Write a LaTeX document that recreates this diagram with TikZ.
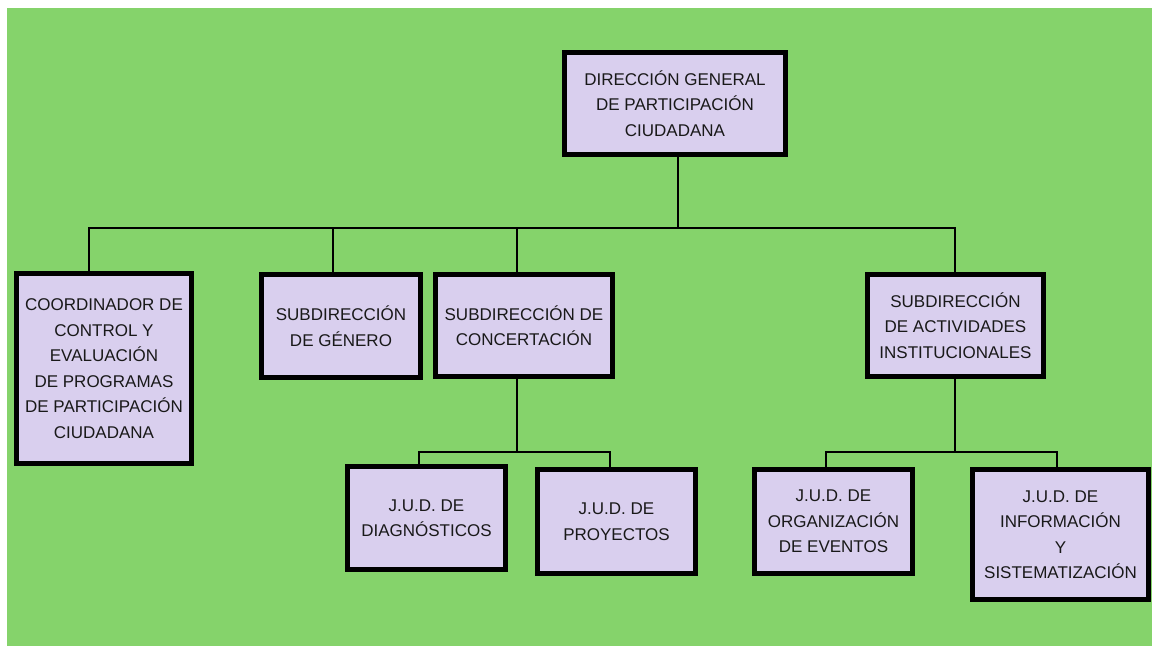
\documentclass[tikz,border=0pt]{standalone}
\usepackage{fontspec}
\setmainfont{Liberation Sans}
\definecolor{bggreen}{HTML}{85D36B}
\definecolor{boxlilac}{HTML}{D9CFEE}
\tikzset{
  unit/.style={draw=black, fill=boxlilac, line width=5pt, inner sep=0pt, align=center,
    text=black!90, font=\fontsize{17}{25.5}\selectfont},
  link/.style={line width=2pt, black},
}
\begin{document}
\begin{tikzpicture}[x=1pt, y=-1pt]
\useasboundingbox (0,0) rectangle (1152,646);
\fill[bggreen] (7,8) rectangle (1152,646);

\node[unit, minimum width=221, minimum height=102] (dg) at (675,103.5)
  {DIRECCIÓN GENERAL\\DE PARTICIPACIÓN\\CIUDADANA};

\node[unit, minimum width=175, minimum height=190] (coord) at (104,368.5)
  {COORDINADOR DE\\CONTROL Y\\EVALUACIÓN\\DE PROGRAMAS\\DE PARTICIPACIÓN\\CIUDADANA};
\node[unit, minimum width=159, minimum height=103] (gen) at (341,326)
  {SUBDIRECCIÓN\\DE GÉNERO};
\node[unit, minimum width=177, minimum height=102] (conc) at (524,325.5)
  {SUBDIRECCIÓN DE\\CONCERTACIÓN};
\node[unit, minimum width=176, minimum height=102] (act) at (955.5,325.5)
  {SUBDIRECCIÓN\\DE ACTIVIDADES\\INSTITUCIONALES};

\node[unit, minimum width=158, minimum height=103] (diag) at (426.5,518)
  {J.U.D. DE\\DIAGNÓSTICOS};
\node[unit, minimum width=158, minimum height=104] (proy) at (616.5,521.5)
  {J.U.D. DE\\PROYECTOS};
\node[unit, minimum width=158, minimum height=104] (org) at (833.5,521.5)
  {J.U.D. DE\\ORGANIZACIÓN\\DE EVENTOS};
\node[unit, minimum width=176, minimum height=130] (info) at (1060.5,534.5)
  {J.U.D. DE\\INFORMACIÓN\\Y\\SISTEMATIZACIÓN};

% buses
\coordinate (top bus) at (678,228);
\coordinate (conc bus) at (517,452);
\coordinate (act bus) at (955,452);

\draw[link] ([xshift=3]dg.south) -- (top bus);
\draw[link] ([xshift=-15]coord.north) |- (top bus);
\draw[link] ([xshift=-8]gen.north) |- (top bus);
\draw[link] ([xshift=-7]conc.north) |- (top bus);
\draw[link] ([xshift=-0.5]act.north) |- (top bus);

\draw[link] ([xshift=-7]conc.south) -- (conc bus);
\draw[link] ([xshift=-7.5]diag.north) |- (conc bus);
\draw[link] ([xshift=-6.5]proy.north) |- (conc bus);

\draw[link] ([xshift=-0.5]act.south) -- (act bus);
\draw[link] ([xshift=-7.5]org.north) |- (act bus);
\draw[link] ([xshift=-3.5]info.north) |- (act bus);
\end{tikzpicture}
\end{document}
